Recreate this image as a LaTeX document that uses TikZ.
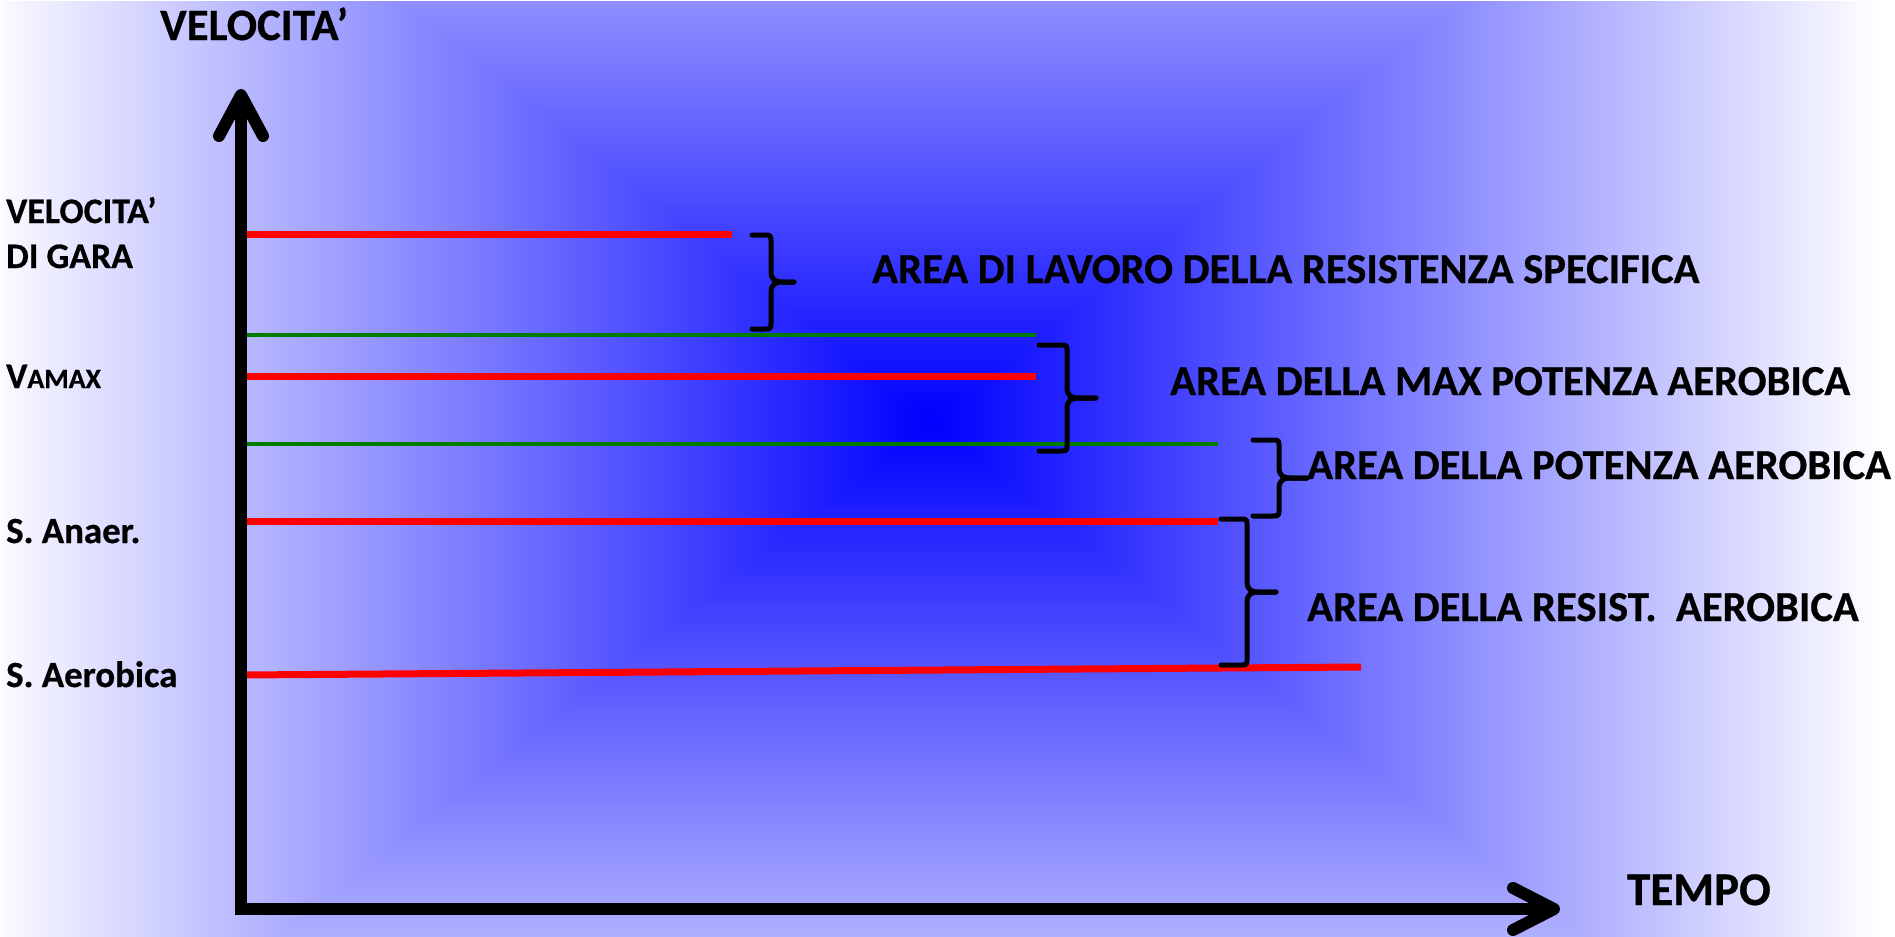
\documentclass[tikz,border=0pt]{standalone}
\usepackage{fontspec}
\setmainfont{Carlito}[BoldFeatures={FakeBold=0.6}]
\usetikzlibrary{calc}

% rectangular "from centre" gradient: pure blue in the middle, white at the sides
\pgfdeclarefunctionalshading{bluerect}{\pgfpoint{0bp}{0bp}}{\pgfpoint{1895bp}{937bp}}{}{
 517 sub abs 750 div exch 931 sub abs 950 div
 2 copy sub abs add add 2 div
 dup 1 sub abs neg 1 add add 2 div
 dup 1
}

\definecolor{lvlred}{RGB}{255,0,0}
\definecolor{lvlgreen}{RGB}{0,125,0}

\tikzset{
  axisline/.style={line width=12bp, black},
  arrowhead/.style={line width=12bp, black, line cap=round, line join=round},
  redline/.style={line width=7bp, lvlred},
  greenline/.style={line width=4bp, lvlgreen},
  bracestyle/.style={line width=5bp, black, line cap=round, line join=round},
  lbl/.style={inner sep=0pt, anchor=base west, font=\bfseries\fontsize{36}{40}\selectfont},
  area/.style={inner sep=0pt, anchor=base west, font=\bfseries\fontsize{42.8}{48}\selectfont},
  axtitle/.style={inner sep=0pt, anchor=base west, font=\bfseries\fontsize{45}{50}\selectfont},
  % right curly brace: height, stub to the spine, spine to the tip
  pics/areabrace/.style n args={3}{code={
    \draw[bracestyle]
      (0,0) -- (#2-7,0) .. controls (#2,0) .. (#2,7)
      -- (#2,#1/2-11) .. controls (#2,#1/2-2) and (#2+4,#1/2) .. (#2+12,#1/2)
      -- (#2+#3,#1/2);
    \draw[bracestyle]
      (#2+#3,#1/2) -- (#2+12,#1/2)
      .. controls (#2+4,#1/2) and (#2,#1/2+2) .. (#2,#1/2+11)
      -- (#2,#1-7) .. controls (#2,#1) .. (#2-7,#1) -- (0,#1);
  }},
}

\begin{document}
\begin{tikzpicture}[x=1bp, y=-1bp]
\useasboundingbox (0,0) rectangle (1895,937);

% background
\node[inner sep=0pt, anchor=north west] (bg) at (0,0) {\pgfuseshading{bluerect}};

% level lines
\coordinate (r1a) at (241,234);  \coordinate (r1b) at (732,234);
\coordinate (g1a) at (241,335);  \coordinate (g1b) at (1036,335);
\coordinate (r2a) at (241,376);  \coordinate (r2b) at (1036,376);
\coordinate (g2a) at (241,444);  \coordinate (g2b) at (1218,444);
\coordinate (r3a) at (241,521);  \coordinate (r3b) at (1218,521);
\coordinate (r4a) at (241,675);  \coordinate (r4b) at (1361,667);

\draw[redline]   (r1a) -- (r1b);
\draw[greenline] (g1a) -- (g1b);
\draw[redline]   (r2a) -- (r2b);
\draw[greenline] (g2a) -- (g2b);
\draw[redline]   (r3a) -- (r3b);
\draw[redline]   (r4a) -- (r4b);

% braces
\coordinate (b1t) at (752,235);
\coordinate (b2t) at (1039,345);
\coordinate (b3t) at (1253,440);
\coordinate (b4t) at (1221,519);

\pic (brace-spec) at (b1t) {areabrace={94}{19}{23}};
\pic (brace-max)  at (b2t) {areabrace={106}{28}{29}};
\pic (brace-pot)  at (b3t) {areabrace={76}{26}{28}};
\pic (brace-res)  at (b4t) {areabrace={146}{26}{29}};

% axes
\coordinate (O)    at (241,909);
\coordinate (Ox)   at (235,909);
\coordinate (ytip) at (241,95);
\coordinate (xtip) at (1554,909);

\draw[axisline] (O) -- ($(ytip)+(0,6)$);
\draw[axisline] (Ox) -- ($(xtip)+(-6,0)$);
\draw[arrowhead] ($(ytip)+(-22,41)$) -- (ytip) -- ($(ytip)+(22,41)$);
\draw[arrowhead] ($(xtip)+(-41,-21)$) -- (xtip) -- ($(xtip)+(-41,21)$);

% axis titles
\node[axtitle] (ttl-v) at (160,40)  {VELOCITA’};
\node[axtitle, font=\bfseries\fontsize{47}{52}\selectfont] (ttl-t) at (1627,905) {TEMPO};

% level labels
\node[lbl] (l-gara1) at (6,223) {VELOCITA’};
\node[lbl] (l-gara2) at (6,268) {DI GARA};
\node[lbl] (l-vamax) at (6,388) {V{\fontsize{28}{30}\selectfont AMAX}};
\node[lbl, font=\bfseries\fontsize{37}{40}\selectfont] (l-anaer) at (6,543) {S. Anaer.};
\node[lbl, font=\bfseries\fontsize{37}{40}\selectfont] (l-aerob) at (6,687) {S. Aerobica};

% area labels
\node[area] (a-spec) at (872,283)  {AREA DI LAVORO DELLA RESISTENZA SPECIFICA};
\node[area] (a-max)  at (1170,395) {AREA DELLA MAX POTENZA AEROBICA};
\node[area] (a-pot)  at (1307,479) {AREA DELLA POTENZA AEROBICA};
\node[area] (a-res)  at (1307,621) {AREA DELLA RESIST.\ \ AEROBICA};
\end{tikzpicture}
\end{document}
